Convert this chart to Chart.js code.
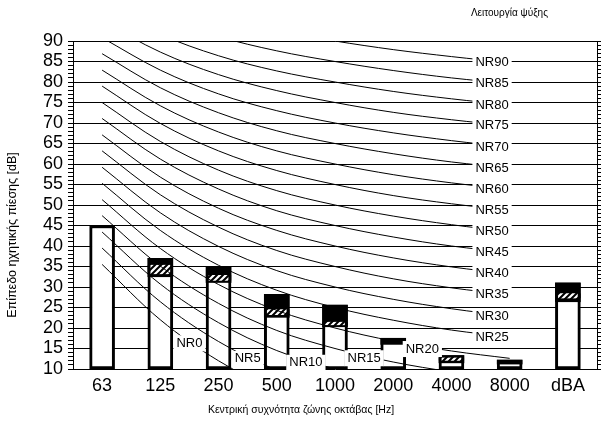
<!DOCTYPE html>
<html>
<head>
<meta charset="utf-8">
<script src="https://cdn.jsdelivr.net/npm/chart.js@4.4.1/dist/chart.umd.min.js"></script>
<style>
  body { margin: 0; background: #fff; }
  #wrap { width: 602px; height: 428px; position: relative; }
</style>
</head>
<body>
<div id="wrap"><canvas id="nrChart" width="602" height="428"></canvas></div>
<script>
// Ζώνες οκτάβας
const categories = ['63', '125', '250', '500', '1000', '2000', '4000', '8000', 'dBA'];

// Στάθμες μπάρας (κορυφή), μαύρη ζώνη και διαγραμμισμένη ζώνη
const barTop      = [45, 37, 35, 28.2, 25.6, 17.5, 13.3, 12.2, 31];
const darkBottom  = [null, 32.5, 31.1, 22.6, 20.3, 16, 11.5, 11.2, 26.4];
const hatchBottom = [null, 33.1, 31.5, 23.2, 20.7, null, 12.0, null, 27.2];
const hatchTop    = [null, 35.4, 32.9, 24.6, 21.5, null, 12.8, null, 28.5];

// Καμπύλες NR (63 ... 8000 Hz)
const nrLevels = [0, 5, 10, 15, 20, 25, 30, 35, 40, 45, 50, 55, 60, 65, 70, 75, 80, 85, 90];
const nrCurves = [
    [35.5, 22.0, 12.0, 4.8, 0, -3.5, -6.1, -8.0],
    [39.5, 26.4, 16.7, 9.7, 5, 1.6, -1.0, -2.9],
    [43.4, 30.7, 21.3, 14.5, 10, 6.7, 4.2, 2.3],
    [47.4, 35.1, 26.0, 19.4, 15, 11.7, 9.3, 7.5],
    [51.3, 39.4, 30.6, 24.3, 20, 16.8, 14.4, 12.6],
    [55.3, 43.8, 35.3, 29.2, 25, 21.9, 19.5, 17.8],
    [59.2, 48.1, 39.9, 34.0, 30, 27.0, 24.7, 22.9],
    [63.2, 52.5, 44.6, 38.9, 35, 32.0, 29.8, 28.1],
    [67.1, 56.8, 49.2, 43.8, 40, 37.1, 34.9, 33.2],
    [71.1, 61.2, 53.9, 48.6, 45, 42.2, 40.0, 38.4],
    [75.0, 65.5, 58.5, 53.5, 50, 47.3, 45.2, 43.5],
    [79.0, 69.9, 63.2, 58.4, 55, 52.3, 50.3, 48.7],
    [82.9, 74.2, 67.8, 63.2, 60, 57.4, 55.4, 53.8],
    [86.9, 78.6, 72.5, 68.1, 65, 62.5, 60.5, 59.0],
    [90.8, 82.9, 77.1, 73.0, 70, 67.6, 65.7, 64.1],
    [94.8, 87.3, 81.8, 77.9, 75, 72.6, 70.8, 69.3],
    [98.7, 91.6, 86.4, 82.7, 80, 77.7, 75.9, 74.4],
    [102.7, 96.0, 91.1, 87.6, 85, 82.8, 81.0, 79.6],
    [106.6, 100.3, 95.7, 92.5, 90, 87.9, 86.2, 84.7]
];

const FONT = "'Liberation Sans', Arial, sans-serif";

// Μοτίβο διαγράμμισης
function makeHatch() {
    const c = document.createElement('canvas');
    c.width = 6; c.height = 6;
    const g = c.getContext('2d');
    g.fillStyle = '#fff';
    g.fillRect(0, 0, 6, 6);
    g.strokeStyle = '#000';
    g.lineWidth = 2;
    g.beginPath();
    g.moveTo(-1, 7); g.lineTo(7, -1);
    g.moveTo(-4, 4); g.lineTo(4, -4);
    g.moveTo(2, 10); g.lineTo(10, 2);
    g.stroke();
    return g.createPattern(c, 'repeat');
}

function range(lo, hi) {
    return lo.map((v, i) => (v === null || hi[i] === null) ? null : [v, hi[i]]);
}

// Ετικέτες NR με λευκό φόντο
const nrLabelPlugin = {
    id: 'nrLabels',
    afterDatasetsDraw(chart) {
        const ctx = chart.ctx;
        ctx.save();
        ctx.font = '13px ' + FONT;
        ctx.textBaseline = 'middle';
        chart.data.datasets.forEach((ds, di) => {
            if (ds.nrLevel === undefined) return;
            const pts = chart.getDatasetMeta(di).data;
            const text = 'NR' + ds.nrLevel;
            const w = ctx.measureText(text).width;
            let x, y;
            if (ds.nrLevel <= 20) {
                const i = ds.nrLevel / 5 + 1;
                x = (pts[i].x + pts[i + 1].x) / 2 - w / 2;
                y = (pts[i].y + pts[i + 1].y) / 2 + 3;
            } else {
                x = pts[7].x - w - 1;
                y = pts[7].y;
            }
            ctx.fillStyle = '#fff';
            ctx.fillRect(x - 3, y - 8, w + 6, 16);
            ctx.fillStyle = '#000';
            ctx.fillText(text, x, y);
        });
        ctx.restore();
    }
};

// Τίτλοι αξόνων και τίτλος πάνω δεξιά
const titlesPlugin = {
    id: 'titles',
    afterDraw(chart) {
        const ctx = chart.ctx;
        ctx.save();
        ctx.fillStyle = '#000';
        ctx.textBaseline = 'middle';

        ctx.font = '10px ' + FONT;
        ctx.textAlign = 'right';
        ctx.fillText('Λειτουργία ψύξης', 548, 13);

        ctx.font = '10.5px ' + FONT;
        ctx.textAlign = 'center';
        ctx.fillText('Κεντρική συχνότητα ζώνης οκτάβας [Hz]', 301, 410);

        ctx.translate(13, 235);
        ctx.rotate(-Math.PI / 2);
        ctx.font = '12.5px ' + FONT;
        ctx.fillText('Επίπεδο ηχητικής πίεσης [dB]', 0, 0);
        ctx.restore();
    }
};

function initChart() {
    const hatch = makeHatch();
    const datasets = [];

    nrCurves.forEach((vals, k) => {
        datasets.push({
            type: 'line',
            nrLevel: nrLevels[k],
            data: vals,
            borderColor: '#000',
            borderWidth: 1,
            pointRadius: 0,
            tension: 0.35,
            order: 0
        });
    });

    datasets.push({
        type: 'bar',
        data: range(hatchBottom, hatchTop),
        backgroundColor: hatch,
        borderColor: '#000',
        borderWidth: { left: 3, right: 3, top: 0, bottom: 0 },
        borderSkipped: false,
        grouped: false,
        barThickness: 25,
        order: 1
    });
    datasets.push({
        type: 'bar',
        data: range(darkBottom, barTop),
        backgroundColor: '#000',
        borderWidth: 0,
        grouped: false,
        barThickness: 25,
        order: 2
    });
    datasets.push({
        type: 'bar',
        data: barTop.map(v => [10, v]),
        backgroundColor: '#fff',
        borderColor: '#000',
        borderWidth: 3,
        borderSkipped: false,
        grouped: false,
        barThickness: 25,
        order: 3
    });

    new Chart(document.getElementById('nrChart').getContext('2d'), {
        type: 'bar',
        data: { labels: categories, datasets: datasets },
        options: {
            responsive: false,
            devicePixelRatio: 1,
            animation: false,
            layout: { padding: { top: 41, left: 0, right: 0, bottom: 0 } },
            plugins: {
                legend: { display: false },
                tooltip: { enabled: false }
            },
            scales: {
                x: {
                    grid: { display: false, drawTicks: false },
                    border: { display: false },
                    ticks: { color: '#000', font: { family: FONT, size: 18 }, padding: 6 },
                    afterFit: s => { s.height = 59; }
                },
                y: {
                    min: 10,
                    max: 90,
                    ticks: {
                        stepSize: 1,
                        autoSkip: false,
                        color: '#000',
                        font: { family: FONT, size: 18 },
                        padding: 5,
                        callback: v => (v % 5 === 0 ? v : '')
                    },
                    grid: {
                        color: c => (c.tick && c.tick.value % 5 === 0 ? '#000' : 'rgba(0,0,0,0)'),
                        tickColor: '#000',
                        tickLength: 5
                    },
                    border: { display: true, color: '#000' },
                    afterFit: s => { s.width = 73; }
                },
                y2: {
                    position: 'right',
                    min: 10,
                    max: 90,
                    ticks: { stepSize: 1, autoSkip: false, display: false },
                    grid: { drawOnChartArea: false, tickColor: '#000', tickLength: 4 },
                    border: { display: true, color: '#000' },
                    afterFit: s => { s.width = 5; }
                }
            }
        },
        plugins: [nrLabelPlugin, titlesPlugin]
    });
}

document.addEventListener('DOMContentLoaded', initChart);
</script>
</body>
</html>
